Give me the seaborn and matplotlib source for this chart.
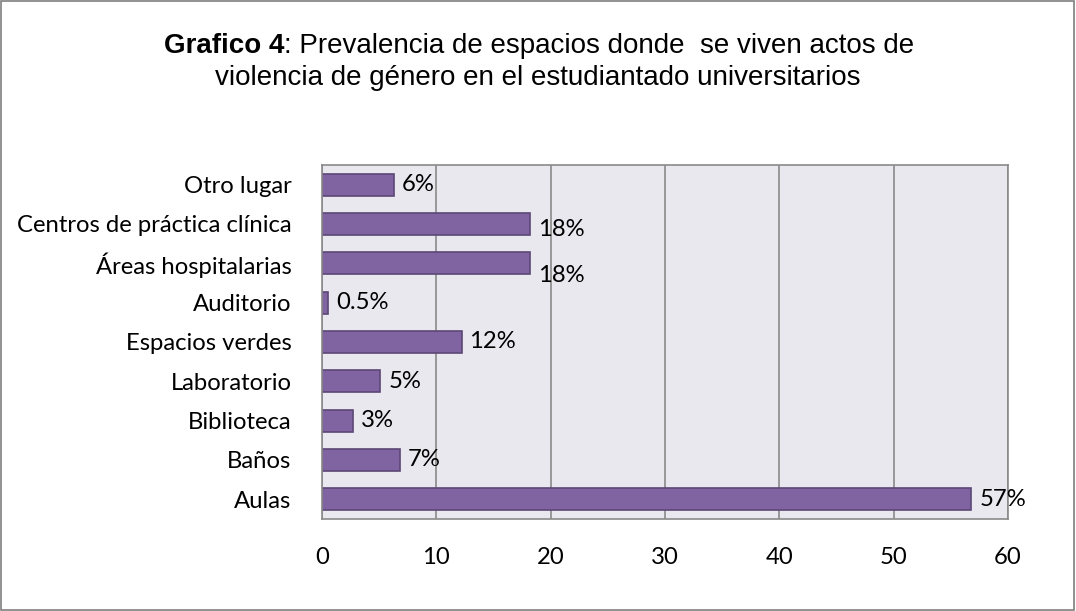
import matplotlib
matplotlib.use("Agg")
import matplotlib.pyplot as plt
import seaborn as sns
import pandas as pd

categories = ["Otro lugar", "Centros de práctica clínica", "Áreas hospitalarias", "Auditorio",
              "Espacios verdes", "Laboratorio", "Biblioteca", "Baños", "Aulas"]
values = [6.3, 18.2, 18.2, 0.5, 12.2, 5.1, 2.7, 6.8, 56.8]
labels = ["6%", "18%", "18%", "0.5%", "12%", "5%", "3%", "7%", "57%"]
xticks = [0, 10, 20, 30, 40, 50, 60]

sns.set_theme(style="white")
plt.rcParams['font.family'] = ['Lato', 'DejaVu Sans']
plt.rcParams['text.color'] = 'black'
plt.rcParams['xtick.color'] = 'black'
plt.rcParams['ytick.color'] = 'black'

FS = 17.2
TFS = 20

df = pd.DataFrame({"cat": categories, "val": values})

fig = plt.figure(figsize=(10.76, 6.11), dpi=100)
ax = fig.add_axes([0.2993, 0.1506, 0.6375, 0.5794])
sns.barplot(data=df, y="cat", x="val", order=categories, color="#8064A2",
            saturation=1, width=0.56, edgecolor="#5C4776", linewidth=1.2, ax=ax)
ax.set_facecolor("#EAE8EF")
ax.set_xlim(0, 60)
ax.set_xticks(xticks)
ax.set_xticklabels([str(t) for t in xticks], fontsize=FS)
ax.tick_params(axis="x", length=0, pad=20)
ax.tick_params(axis="y", length=0, pad=22, labelsize=FS)
ax.xaxis.grid(True, color="#8A8A8A", linewidth=1.2)
ax.set_axisbelow(True)
for s in ax.spines.values():
    s.set_color("#8A8A8A")
    s.set_linewidth(1.2)
ax.set_xlabel("")
ax.set_ylabel("")

for i, (v, lab) in enumerate(zip(values, labels)):
    dy = 0.15 if lab == "18%" else 0.0
    if i == 2:
        dy = 0.3
    ax.text(v + 0.7, i + dy, lab, va="center", ha="left", fontsize=FS, color="black")

rest = ": Prevalencia de espacios donde  se viven actos de"
t1 = fig.text(0, 0.925, "Grafico 4", fontsize=TFS, fontweight="bold",
              family="Liberation Sans", ha="left", va="center", color="black")
t2 = fig.text(0, 0.925, rest, fontsize=TFS, family="Liberation Sans",
              ha="left", va="center", color="black")
fig.canvas.draw()
r = fig.canvas.get_renderer()
w1 = t1.get_window_extent(r).width
w2 = t2.get_window_extent(r).width
W = fig.bbox.width
x0 = 539 - (w1 + w2) / 2
t1.set_x(x0 / W)
t2.set_x((x0 + w1) / W)
fig.text(0.5, 0.873, "violencia de género en el estudiantado universitarios",
         fontsize=TFS, family="Liberation Sans", ha="center", va="center", color="black")

border = plt.Rectangle((0.0005, 0.001), 0.998, 0.997, transform=fig.transFigure,
                       fill=False, edgecolor="#7F7F7F", linewidth=1.2)
fig.patches.append(border)

fig.savefig("out.png", dpi=100, facecolor="white")
